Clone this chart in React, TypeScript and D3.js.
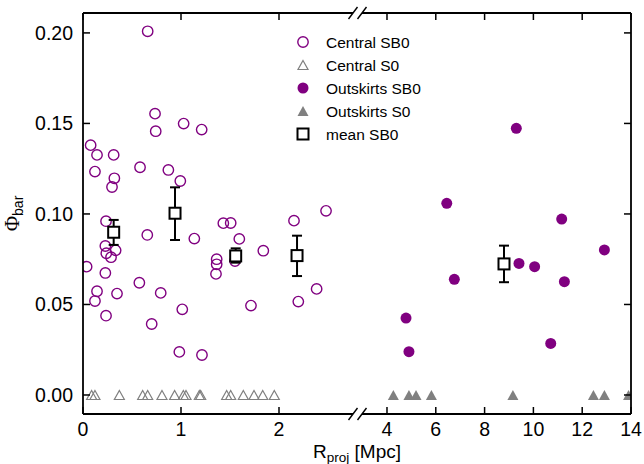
import React from "react"
import * as d3 from "d3"

// values
const centralSB0R = [
  0.66, 0.735, 0.742, 1.027, 1.211, 0.078, 0.143, 0.313, 0.122, 0.582, 0.871, 0.32, 0.296,
  0.993, 0.235, 0.656, 1.136, 1.432, 1.507, 1.595, 2.153, 2.48, 0.228, 0.238, 0.286, 0.333,
  0.037, 0.228, 1.364, 1.364, 1.357, 1.551, 1.84, 0.575, 0.793, 0.143, 0.122, 0.347, 2.384,
  2.197, 1.714, 1.013, 0.235, 0.701, 0.983, 1.214,
]
const centralSB0Phi = [
  0.2009, 0.1554, 0.1457, 0.1499, 0.1466, 0.138, 0.1326, 0.1326, 0.1234, 0.1258, 0.1243,
  0.1197, 0.1149, 0.1182, 0.096, 0.0884, 0.0864, 0.0949, 0.095, 0.0862, 0.0963, 0.1017,
  0.0823, 0.0783, 0.0761, 0.0799, 0.0709, 0.0674, 0.075, 0.0722, 0.0669, 0.074, 0.0797,
  0.062, 0.0564, 0.0573, 0.0519, 0.056, 0.0586, 0.0516, 0.0494, 0.0473, 0.0438, 0.0392,
  0.0238, 0.0221,
]
const centralS0R = [
  0.088, 0.122, 0.371, 0.609, 0.66, 0.806, 0.935, 1.024, 1.051, 1.187, 1.201, 1.466, 1.507,
  1.636, 1.745, 1.834, 1.952,
]
const outskirtsSB0R = [9.3, 6.45, 11.16, 12.91, 9.41, 10.05, 6.76, 11.27, 4.78, 4.9, 10.71]
const outskirtsSB0Phi = [
  0.1473, 0.1059, 0.0972, 0.0801, 0.0727, 0.0709, 0.0639, 0.0626, 0.0425, 0.0239, 0.0285,
]
const outskirtsS0R = [4.26, 4.9, 5.19, 5.82, 9.16, 12.46, 12.91, 13.9]
const meanR = [0.313, 0.939, 1.558, 2.184, 8.795]
const meanPhi = [0.0899, 0.1004, 0.0768, 0.077, 0.0724]
const meanLo = [0.0829, 0.0856, 0.0731, 0.0657, 0.0623]
const meanHi = [0.0967, 0.1147, 0.081, 0.088, 0.0825]

const yTicks = [0, 0.05, 0.1, 0.15, 0.2]
const xTicksLeft = [0, 1, 2]
const xTicksRight = [4, 6, 8, 10, 12, 14]
const legendLabels = ["Central SB0", "Central S0", "Outskirts SB0", "Outskirts S0", "mean SB0"]

const W = 644
const H = 464
const top = 13
const bottom = 414
const left = 83
const right = 631
const breakL = 353
const breakR = 362

const purple = "#800080"
const gray = "#808080"
const font = "'Liberation Sans', Arial, Helvetica, sans-serif"

const xLeft = d3.scaleLinear().domain([0, (breakL - left) / 98]).range([left, breakL])
const xRight = d3
  .scaleLinear()
  .domain([4 - (387 - breakR) / 24.41, 14])
  .range([breakR, right])
const y = d3.scaleLinear().domain([-0.0105, 0.211]).range([bottom, top])
const xPos = (r: number) => (r < 2.85 ? xLeft(r) : xRight(r))

const triOpen = "M0,-4.5L5,4.5L-5,4.5Z"
const triFill = "M0,-5L5.5,5L-5.5,5Z"

function Marker({ kind }: { kind: number }) {
  if (kind === 0) return <circle r={5.2} fill="none" stroke={purple} strokeWidth={1.4} />
  if (kind === 1) return <path d={triOpen} fill="none" stroke={gray} strokeWidth={1.2} />
  if (kind === 2) return <circle r={5.5} fill={purple} />
  if (kind === 3) return <path d={triFill} fill={gray} />
  return <rect x={-5.5} y={-5.5} width={11} height={11} fill="#fff" stroke="#000" strokeWidth={2} />
}

export default function App() {
  const fmt = d3.format(".2f")
  const tick = 7
  return (
    <svg
      width={W}
      height={H}
      style={{ position: "absolute", left: 0, top: 0, background: "#fff" }}
      fontFamily={font}
    >
      <defs>
        <clipPath id="plot">
          <rect x={left} y={top} width={right - left} height={bottom - top} />
        </clipPath>
      </defs>

      <g clipPath="url(#plot)">
        {centralSB0R.map((r, i) => (
          <g key={"c" + i} transform={`translate(${xPos(r)},${y(centralSB0Phi[i])})`}>
            <Marker kind={0} />
          </g>
        ))}
        {centralS0R.map((r, i) => (
          <g key={"t" + i} transform={`translate(${xPos(r)},${y(0)})`}>
            <Marker kind={1} />
          </g>
        ))}
        {outskirtsSB0R.map((r, i) => (
          <g key={"o" + i} transform={`translate(${xPos(r)},${y(outskirtsSB0Phi[i])})`}>
            <Marker kind={2} />
          </g>
        ))}
        {outskirtsS0R.map((r, i) => (
          <g key={"s" + i} transform={`translate(${xPos(r)},${y(0)})`}>
            <Marker kind={3} />
          </g>
        ))}
        {meanR.map((r, i) => {
          const cx = xPos(r)
          return (
            <g key={"m" + i} stroke="#000" strokeWidth={2}>
              <line x1={cx} x2={cx} y1={y(meanLo[i])} y2={y(meanHi[i])} />
              <line x1={cx - 5} x2={cx + 5} y1={y(meanLo[i])} y2={y(meanLo[i])} />
              <line x1={cx - 5} x2={cx + 5} y1={y(meanHi[i])} y2={y(meanHi[i])} />
              <g transform={`translate(${cx},${y(meanPhi[i])})`}>
                <Marker kind={4} />
              </g>
            </g>
          )
        })}
      </g>

      {/* frame, broken on top and bottom */}
      <g stroke="#000" strokeWidth={1.8} fill="none">
        <line x1={left} x2={left} y1={top} y2={bottom} />
        <line x1={right} x2={right} y1={top} y2={bottom} />
        <line x1={left} x2={breakL} y1={top} y2={top} />
        <line x1={breakR} x2={right} y1={top} y2={top} />
        <line x1={left} x2={breakL} y1={bottom} y2={bottom} />
        <line x1={breakR} x2={right} y1={bottom} y2={bottom} />
      </g>
      <g stroke="#000" strokeWidth={1.4}>
        {[breakL, breakR].map((bx) =>
          [top, bottom].map((by) => (
            <line key={bx + "-" + by} x1={bx - 4.5} x2={bx + 4.5} y1={by + 6} y2={by - 6} />
          ))
        )}
      </g>

      {/* ticks */}
      <g stroke="#000" strokeWidth={1.5}>
        {yTicks.map((t) => (
          <g key={"yt" + t}>
            <line x1={left} x2={left + tick} y1={y(t)} y2={y(t)} />
            <line x1={right} x2={right - tick} y1={y(t)} y2={y(t)} />
          </g>
        ))}
        {xTicksLeft.map((t) => (
          <g key={"xl" + t}>
            <line x1={xLeft(t)} x2={xLeft(t)} y1={bottom} y2={bottom - tick} />
            <line x1={xLeft(t)} x2={xLeft(t)} y1={top} y2={top + tick} />
          </g>
        ))}
        {xTicksRight.map((t) => (
          <g key={"xr" + t}>
            <line x1={xRight(t)} x2={xRight(t)} y1={bottom} y2={bottom - tick} />
            <line x1={xRight(t)} x2={xRight(t)} y1={top} y2={top + tick} />
          </g>
        ))}
      </g>

      <g fontSize={19.5} fill="#000">
        {yTicks.map((t) => (
          <text key={"yl" + t} x={73} y={y(t)} textAnchor="end" dominantBaseline="central">
            {fmt(t)}
          </text>
        ))}
        {xTicksLeft.map((t) => (
          <text key={"xll" + t} x={xLeft(t)} y={436} textAnchor="middle">
            {t}
          </text>
        ))}
        {xTicksRight.map((t) => (
          <text key={"xrl" + t} x={xRight(t)} y={436} textAnchor="middle">
            {t}
          </text>
        ))}
        <text x={(left + right) / 2} y={458} textAnchor="middle" fontSize={19}>
          R<tspan fontSize={13.5} dy={4}>proj</tspan>
          <tspan dy={-4}> [Mpc]</tspan>
        </text>
        <text transform={`translate(19,${(top + bottom) / 2}) rotate(-90)`} textAnchor="middle">
          <tspan fontFamily="'Liberation Serif', 'DejaVu Serif', serif" fontSize={21}>Φ</tspan>
          <tspan fontSize={14} dy={4}>bar</tspan>
        </text>
      </g>

      {/* legend */}
      <g fontSize={15.5} fill="#000">
        {legendLabels.map((lab, i) => (
          <g key={lab} transform={`translate(0,${42 + i * 23})`}>
            <g transform="translate(303,0)">
              <Marker kind={i} />
            </g>
            <text x={326} y={0} dominantBaseline="central">
              {lab}
            </text>
          </g>
        ))}
      </g>
    </svg>
  )
}
